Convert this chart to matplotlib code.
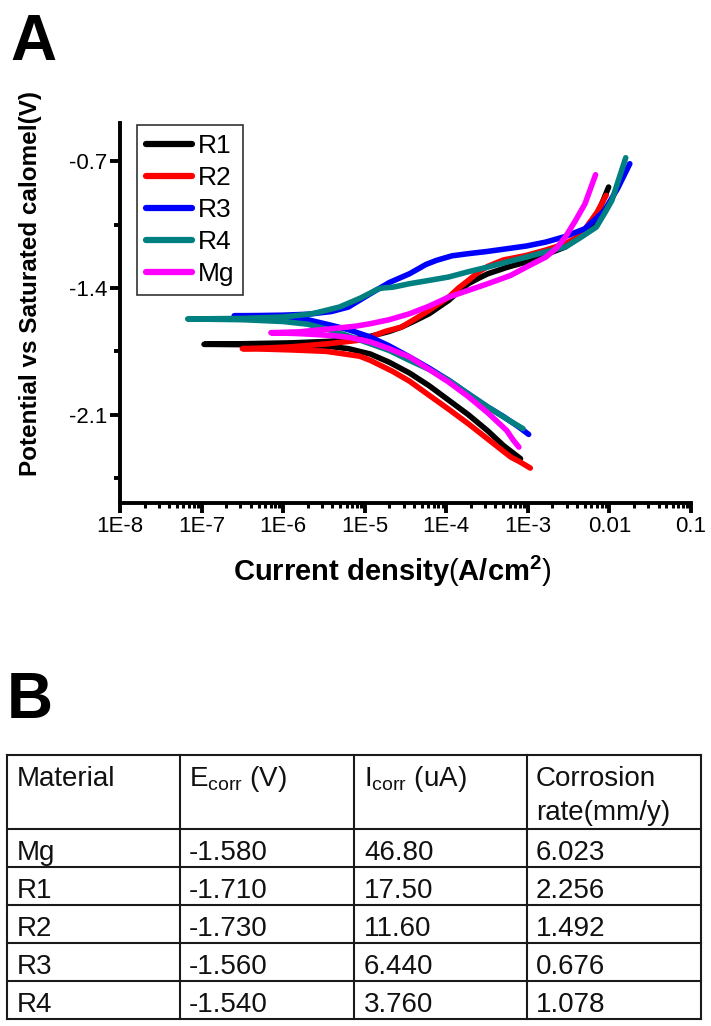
import numpy as np
import matplotlib
matplotlib.use("Agg")
import matplotlib.pyplot as plt
from matplotlib.ticker import FixedLocator, FixedFormatter, LogLocator, NullFormatter

plt.rcParams['font.family'] = ['Liberation Sans', 'DejaVu Sans']
plt.rcParams['mathtext.fontset'] = 'custom'
plt.rcParams['mathtext.rm'] = 'Liberation Sans'
plt.rcParams['mathtext.bf'] = 'Liberation Sans:bold'
plt.rcParams['mathtext.it'] = 'Liberation Sans:italic'

# ---------------- data: potentiodynamic polarization curves ----------------
# log10(current density, A/cm2) and potential (V vs SCE), along the sweep
r1_logi = [-3.09, -3.30, -3.49, -3.73, -3.97, -4.21, -4.45, -4.70, -4.93, -5.20, -5.45, -5.90, -6.50, -6.97,
           -6.50, -5.90, -5.45, -5.20, -4.93, -4.70, -4.55, -4.38, -4.21, -3.97, -3.85, -3.73, -3.60, -3.49,
           -3.25, -3.02, -2.78, -2.54, -2.40, -2.30, -2.20, -2.11, -2.01]
r1_pot = [-2.343, -2.27, -2.19, -2.10, -2.02, -1.94, -1.87, -1.81, -1.765, -1.735, -1.722, -1.716, -1.713, -1.711,
          -1.708, -1.703, -1.695, -1.685, -1.667, -1.64, -1.616, -1.58, -1.542, -1.468, -1.42, -1.376, -1.345, -1.321,
          -1.285, -1.256, -1.215, -1.173, -1.13, -1.10, -1.04, -0.952, -0.842]

r2_logi = [-2.97, -3.10, -3.21, -3.49, -3.73, -3.97, -4.25, -4.45, -4.66, -4.93, -5.06, -5.47, -5.90, -6.20, -6.50,
           -6.20, -5.90, -5.45, -5.10, -4.93, -4.75, -4.55, -4.38, -4.21, -3.97, -3.85, -3.73, -3.60, -3.49,
           -3.30, -3.02, -2.78, -2.54, -2.40, -2.30, -2.15, -2.04]
r2_pot = [-2.395, -2.36, -2.334, -2.235, -2.15, -2.07, -1.98, -1.915, -1.86, -1.80, -1.777, -1.75, -1.742, -1.738, -1.735,
          -1.731, -1.725, -1.708, -1.69, -1.671, -1.64, -1.616, -1.57, -1.523, -1.45, -1.40, -1.358, -1.31, -1.28,
          -1.245, -1.22, -1.19, -1.155, -1.12, -1.075, -0.98, -0.888]

r3_logi = [-2.99, -3.11, -3.30, -3.49, -3.73, -3.97, -4.21, -4.45, -4.70, -4.93, -5.20, -5.41, -5.70, -6.00, -6.30, -6.60,
           -6.30, -6.00, -5.70, -5.41, -5.20, -4.93, -4.70, -4.45, -4.25, -4.12, -3.93, -3.73, -3.50, -3.26,
           -3.02, -2.78, -2.54, -2.30, -2.15, -2.06, -1.90, -1.75]
r3_pot = [-2.209, -2.168, -2.11, -2.058, -1.985, -1.91, -1.843, -1.781, -1.72, -1.671, -1.63, -1.606, -1.575, -1.56, -1.554, -1.553,
          -1.552, -1.55, -1.545, -1.53, -1.505, -1.431, -1.37, -1.321, -1.27, -1.247, -1.222, -1.21, -1.198, -1.183,
          -1.168, -1.146, -1.115, -1.072, -1.01, -0.971, -0.85, -0.713]

r4_logi = [-3.06, -3.20, -3.49, -3.73, -3.97, -4.21, -4.45, -4.70, -4.93, -5.20, -5.41, -5.70, -6.00, -6.50, -7.17,
           -6.50, -6.00, -5.64, -5.31, -5.05, -4.83, -4.78, -4.65, -4.45, -4.20, -3.97, -3.73, -3.49, -3.25,
           -3.02, -2.78, -2.54, -2.35, -2.16, -2.05, -1.97, -1.80]
r4_pot = [-2.177, -2.14, -2.058, -1.985, -1.91, -1.85, -1.80, -1.745, -1.708, -1.665, -1.634, -1.60, -1.585, -1.575, -1.571,
          -1.568, -1.56, -1.542, -1.505, -1.455, -1.404, -1.40, -1.395, -1.376, -1.357, -1.339, -1.31, -1.284, -1.255,
          -1.229, -1.20, -1.173, -1.12, -1.063, -0.98, -0.916, -0.68]

mg_logi = [-3.11, -3.18, -3.26, -3.49, -3.73, -3.97, -4.21, -4.45, -4.70, -4.93, -5.20, -5.41, -5.80, -6.15,
           -5.80, -5.41, -5.10, -4.93, -4.70, -4.45, -4.21, -3.97, -3.73, -3.49, -3.21, -3.00, -2.78, -2.65,
           -2.54, -2.42, -2.30, -2.17]
mg_pot = [-2.279, -2.24, -2.187, -2.09, -2.00, -1.92, -1.85, -1.781, -1.735, -1.698, -1.672, -1.662, -1.652, -1.647,
          -1.642, -1.625, -1.61, -1.597, -1.575, -1.542, -1.50, -1.45, -1.413, -1.376, -1.33, -1.28, -1.229, -1.18,
          -1.118, -1.03, -0.935, -0.774]

series_names = ['R1', 'R2', 'R3', 'R4', 'Mg']
series_logi = [r1_logi, r2_logi, r3_logi, r4_logi, mg_logi]
series_pot = [r1_pot, r2_pot, r3_pot, r4_pot, mg_pot]
series_colors = ['#000000', '#ff0000', '#0000ff', '#008080', '#ff00ff']

x_tick_values = [1e-8, 1e-7, 1e-6, 1e-5, 1e-4, 1e-3, 1e-2, 1e-1]
x_tick_labels = ['1E-8', '1E-7', '1E-6', '1E-5', '1E-4', '1E-3', '0.01', '0.1']
y_tick_values = [-0.7, -1.4, -2.1]
y_tick_labels = ['-0.7', '-1.4', '-2.1']
y_minor_values = [-1.05, -1.75, -2.45]

# ---------------- table data ----------------
table_header = ['Material', r'E$_{\mathregular{corr}}$ (V)', r'I$_{\mathregular{corr}}$ (uA)', 'Corrosion\nrate(mm/y)']
table_material = ['Mg', 'R1', 'R2', 'R3', 'R4']
table_ecorr = ['-1.580', '-1.710', '-1.730', '-1.560', '-1.540']
table_icorr = ['46.80', '17.50', '11.60', '6.440', '3.760']
table_rate = ['6.023', '2.256', '1.492', '0.676', '1.078']

# ---------------- figure ----------------
W, H = 711, 1026
fig = plt.figure(figsize=(W / 100, H / 100), dpi=100)

# panel A axes (pixel box: x 120..691, y 123..503)
AX_L, AX_R, AX_T, AX_B = 120, 691, 123, 503
AW, AH = AX_R - AX_L, AX_B - AX_T
ax = fig.add_axes([AX_L / W, 1 - AX_B / H, AW / W, AH / H])
for name, li, pv, col in zip(series_names, series_logi, series_pot, series_colors):
    ax.plot(10 ** np.array(li), pv, color=col, lw=4.0, solid_capstyle='round',
            solid_joinstyle='round', label=name)

ax.set_xscale('log')
ax.set_xlim(1e-8, 1e-1)
ax.set_ylim(-2.588, -0.488)
for s in ['top', 'right']:
    ax.spines[s].set_visible(False)
for s in ['left', 'bottom']:
    ax.spines[s].set_linewidth(2.8)

ax.xaxis.set_major_locator(FixedLocator(x_tick_values))
ax.xaxis.set_major_formatter(FixedFormatter(x_tick_labels))
ax.xaxis.set_minor_locator(LogLocator(base=10, subs=np.arange(2, 10), numticks=20))
ax.xaxis.set_minor_formatter(NullFormatter())
ax.yaxis.set_major_locator(FixedLocator(y_tick_values))
ax.yaxis.set_major_formatter(FixedFormatter(y_tick_labels))
ax.yaxis.set_minor_locator(FixedLocator(y_minor_values))

ax.tick_params(axis='x', which='major', direction='out', length=7, width=2.8, labelsize=16, pad=2)
ax.tick_params(axis='x', which='minor', direction='out', length=3.5, width=2.2)
ax.tick_params(axis='y', which='major', direction='out', length=7, width=2.8, labelsize=16, pad=2)
ax.tick_params(axis='y', which='minor', direction='out', length=4, width=2.8)

ax.set_xlabel(r'$\mathbf{Current\ density}$$\mathregular{(}$$\mathbf{A/cm^{2}}$$\mathregular{)}$',
              fontsize=21)
ax.xaxis.set_label_coords((392 - AX_L) / AW, (AX_B - 581) / AH)
ax.xaxis.label.set_va('baseline')
ax.set_ylabel('Potential vs Saturated calomel(V)', fontsize=17.5, fontweight='bold')
ax.yaxis.set_label_coords((30 - AX_L) / AW, (AX_B - 283) / AH)
ax.yaxis.label.set_va('center')

leg = ax.legend(loc='upper left', bbox_to_anchor=((137 - AX_L) / AW, (AX_B - 125) / AH),
                borderaxespad=0, frameon=True, fancybox=False, fontsize=19,
                handlelength=1.75, handletextpad=0.2, labelspacing=0.3, borderpad=0.35)
leg.get_frame().set_edgecolor('black')
leg.get_frame().set_linewidth(1.2)
for line in leg.get_lines():
    line.set_linewidth(4.5)

# panel letters
fig.text(10 / W, 1 - 60 / H, 'A', fontsize=46, fontweight='bold', va='baseline', ha='left')
fig.text(7 / W, 1 - 718 / H, 'B', fontsize=46, fontweight='bold', va='baseline', ha='left')

# ---------------- panel B table ----------------
tax = fig.add_axes([0, 0, 1, 1])
tax.set_xlim(0, W)
tax.set_ylim(H, 0)
tax.axis('off')

col_edges = [7, 180, 354, 527, 701]
row_edges = [755, 829, 867, 905, 943, 981, 1019]
lc = '#1a1a1a'
for yy in row_edges:
    tax.plot([col_edges[0], col_edges[-1]], [yy, yy], color=lc, lw=1.5, solid_capstyle='projecting')
for xx in col_edges:
    tax.plot([xx, xx], [row_edges[0], row_edges[-1]], color=lc, lw=1.5, solid_capstyle='projecting')

tfs = 20
text_x = [17, 189, 364, 536]
for j, htxt in enumerate(table_header):
    if '\n' in htxt:
        l1, l2 = htxt.split('\n')
        tax.text(text_x[j], 786, l1, fontsize=tfs, va='baseline', ha='left', color='#111111')
        tax.text(text_x[j], 820, l2, fontsize=tfs, va='baseline', ha='left', color='#111111')
    else:
        tax.text(text_x[j], 786, htxt, fontsize=tfs, va='baseline', ha='left', color='#111111')

for i in range(len(table_material)):
    yb = row_edges[i + 2] - 7
    for j, val in enumerate([table_material[i], table_ecorr[i], table_icorr[i], table_rate[i]]):
        tax.text(text_x[j], yb, val, fontsize=tfs, va='baseline', ha='left', color='#111111')

fig.savefig('out.png', dpi=100)
